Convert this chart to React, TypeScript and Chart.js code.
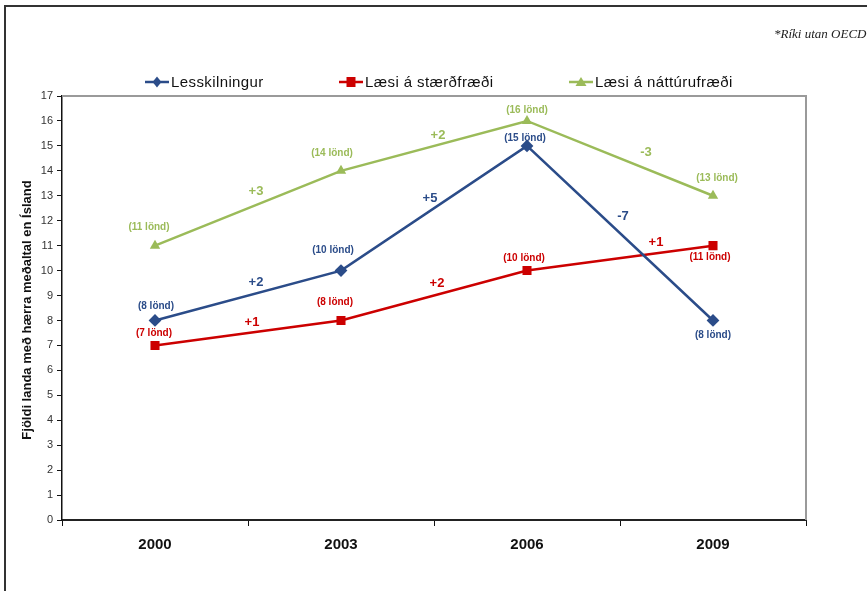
import React, { useEffect, useRef } from "react";
import { Chart, registerables } from "chart.js";

Chart.register(...registerables);

const years = ["2000", "2003", "2006", "2009"];
const seriesNames = ["Lesskilningur", "Læsi á stærðfræði", "Læsi á náttúrufræði"];
const lesskilningur = [8, 10, 15, 8];
const staerdfraedi = [7, 8, 10, 11];
const natturufraedi = [11, 14, 16, 13];
const yTicksMax = 17;
const yAxisTitle = "Fjöldi landa með hærra meðaltal en Ísland";
const footnote = "*Ríki utan OECD";

const colors = ["#2B4C89", "#CC0000", "#9BBB59"];
const pointStyles = ["rectRot", "rect", "triangle"];
const pointRadii = [6.4, 6.4, 6];

// label placement (pixel offsets, styling only)
const pointLabelOffsets = [
  [[1, -14], [-8, -20], [-2, -8], [0, 15]],
  [[-1, -12], [-6, -18], [-3, -12], [-3, 12]],
  [[-6, -18], [-9, -18], [0, -11], [4, -18]],
];
const deltaOffsets = [
  [[8, -13], [-4, -10], [3, -17]],
  [[4, -11], [3, -12], [36, -16]],
  [[8, -17], [4, -10], [26, -6]],
];
const legendX = [145, 339, 569];

const FONT = "'Liberation Sans', Arial, sans-serif";

const plotBorder = {
  id: "plotBorder",
  beforeDatasetsDraw(chart: any) {
    const { ctx, chartArea } = chart;
    ctx.save();
    ctx.strokeStyle = "#9a9a9a";
    ctx.lineWidth = 2;
    ctx.beginPath();
    ctx.moveTo(chartArea.left, chartArea.top);
    ctx.lineTo(chartArea.right, chartArea.top);
    ctx.lineTo(chartArea.right, chartArea.bottom);
    ctx.stroke();
    ctx.restore();
  },
};

const annotations = {
  id: "annotations",
  afterDatasetsDraw(chart: any) {
    const { ctx } = chart;
    ctx.save();
    ctx.textAlign = "center";
    ctx.textBaseline = "middle";
    chart.data.datasets.forEach((ds: any, di: number) => {
      const meta = chart.getDatasetMeta(di);
      const pts = meta.data;
      ctx.fillStyle = colors[di];
      ctx.font = `bold 10px ${FONT}`;
      ds.data.forEach((v: number, i: number) => {
        const p = pts[i];
        const o = pointLabelOffsets[di][i];
        ctx.fillText(`(${v} lönd)`, p.x + o[0], p.y + o[1]);
      });
      ctx.font = `bold 13px ${FONT}`;
      for (let i = 1; i < ds.data.length; i++) {
        const d = ds.data[i] - ds.data[i - 1];
        const a = pts[i - 1];
        const b = pts[i];
        const o = deltaOffsets[di][i - 1];
        const txt = d > 0 ? `+${d}` : `-${Math.abs(d)}`;
        ctx.fillText(txt, (a.x + b.x) / 2 + o[0], (a.y + b.y) / 2 + o[1]);
      }
    });
    ctx.restore();
  },
};

const extras = {
  id: "extras",
  afterDraw(chart: any) {
    const { ctx, chartArea } = chart;
    ctx.save();
    // y axis title
    ctx.translate(27, (chartArea.top + chartArea.bottom) / 2 + 2);
    ctx.rotate(-Math.PI / 2);
    ctx.fillStyle = "#111";
    ctx.font = `bold 13px ${FONT}`;
    ctx.textAlign = "center";
    ctx.textBaseline = "middle";
    ctx.fillText(yAxisTitle, 0, 0);
    ctx.restore();

    // legend
    ctx.save();
    const ly = 82;
    seriesNames.forEach((name, i) => {
      const x0 = legendX[i];
      ctx.strokeStyle = colors[i];
      ctx.lineWidth = 2.5;
      ctx.beginPath();
      ctx.moveTo(x0, ly);
      ctx.lineTo(x0 + 24, ly);
      ctx.stroke();
      ctx.fillStyle = colors[i];
      const cx = x0 + 12;
      const r = 5.5;
      ctx.beginPath();
      if (i === 0) {
        ctx.moveTo(cx, ly - r);
        ctx.lineTo(cx + r * 0.8, ly);
        ctx.lineTo(cx, ly + r);
        ctx.lineTo(cx - r * 0.8, ly);
      } else if (i === 1) {
        ctx.rect(cx - 4.5, ly - 5, 9, 10);
      } else {
        ctx.moveTo(cx, ly - 5);
        ctx.lineTo(cx + 5.5, ly + 4);
        ctx.lineTo(cx - 5.5, ly + 4);
      }
      ctx.closePath();
      ctx.fill();
      ctx.fillStyle = "#111";
      ctx.font = `15px ${FONT}`;
      (ctx as any).letterSpacing = "0.4px";
      ctx.textAlign = "left";
      ctx.textBaseline = "middle";
      ctx.fillText(name, x0 + 26, ly + 1);
    });
    ctx.restore();
  },
};

export default function App() {
  const ref = useRef<HTMLCanvasElement>(null);
  useEffect(() => {
    if (!ref.current) return;
    const ds = [lesskilningur, staerdfraedi, natturufraedi];
    const chart = new Chart(ref.current, {
      type: "line",
      data: {
        labels: years,
        datasets: ds.map((d, i) => ({
          label: seriesNames[i],
          data: d,
          borderColor: colors[i],
          backgroundColor: colors[i],
          borderWidth: 2.5,
          pointStyle: pointStyles[i] as any,
          pointRadius: pointRadii[i],
          pointBorderWidth: 0,
          tension: 0,
        })),
      },
      options: {
        responsive: false,
        animation: false,
        devicePixelRatio: 1,
        layout: { padding: { left: 0, top: 96, right: 61, bottom: 31 } },
        plugins: { legend: { display: false }, tooltip: { enabled: false } },
        scales: {
          x: {
            type: "category",
            offset: true,
            afterFit: (s: any) => { s.height = 40; },
            grid: { offset: true, drawOnChartArea: false, drawTicks: true, tickLength: 6, color: "#111", lineWidth: 1 },
            border: { color: "#222", width: 2 },
            ticks: { color: "#111", font: { family: FONT, size: 15, weight: "bold" }, padding: 10 },
          },
          y: {
            min: 0,
            max: yTicksMax,
            afterFit: (s: any) => { s.width = 62; },
            grid: { drawOnChartArea: false, drawTicks: true, tickLength: 5, color: "#111", lineWidth: 1 },
            border: { color: "#111", width: 1.5 },
            ticks: { stepSize: 1, color: "#333", font: { family: FONT, size: 11 }, padding: 4 },
          },
        },
      },
      plugins: [plotBorder, annotations, extras],
    });
    return () => chart.destroy();
  }, []);

  return (
    <div style={{ position: "fixed", left: 0, top: 0, width: 867, height: 591, overflow: "hidden", background: "#fff" }}>
      <canvas ref={ref} width={867} height={591} style={{ position: "absolute", left: 0, top: 0 }} />
      <div
        style={{
          position: "absolute",
          left: 4,
          top: 5,
          width: 2000,
          height: 2000,
          borderLeft: "2.5px solid #333",
          borderTop: "2.5px solid #333",
          pointerEvents: "none",
        }}
      />
      <div
        style={{
          position: "absolute",
          left: 774,
          top: 26,
          whiteSpace: "nowrap",
          fontFamily: "'Liberation Serif', 'Times New Roman', serif",
          fontStyle: "italic",
          fontSize: 13,
          color: "#222",
        }}
      >
        {footnote}
      </div>
    </div>
  );
}
